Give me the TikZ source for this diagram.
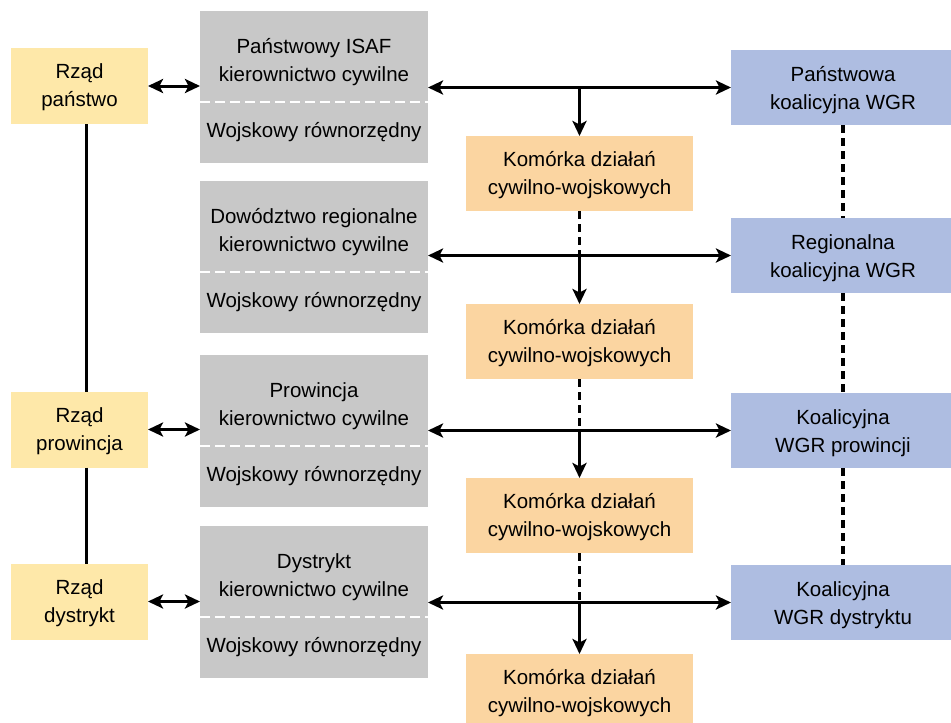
\documentclass[tikz,border=0pt]{standalone}
\usepackage{fontspec}
\setmainfont{Liberation Sans}
\usetikzlibrary{arrows.meta,calc}
\definecolor{govyellow}{RGB}{254,232,169}
\definecolor{isafgray}{RGB}{200,200,200}
\definecolor{cimicorange}{RGB}{251,213,161}
\definecolor{wgrblue}{RGB}{174,189,225}
\begin{document}
\begin{tikzpicture}[x=1pt,y=-1pt,
  textlab/.style={inner sep=0pt,outer sep=0pt,align=center,
    font=\fontsize{20.5}{28}\selectfont},
  % box text set as a centred label, lowered by the given amount
  txt/.style 2 args={label={[textlab,yshift=-#1pt]center:#2}},
  box/.style={inner sep=0pt,outer sep=0pt},
  govbox/.style={box,fill=govyellow,minimum width=137,minimum height=76},
  upperbox/.style={box,fill=isafgray,minimum width=228,minimum height=91,anchor=north},
  lowerbox/.style={box,fill=isafgray,minimum width=228,minimum height=61,anchor=north},
  cellbox/.style={box,fill=cimicorange,minimum width=227,minimum height=75},
  wgrbox/.style={box,fill=wgrblue,minimum width=224,minimum height=75},
  dbl/.style={line width=3pt,{Stealth[length=15pt,width=14pt,inset=3.5pt]}-{Stealth[length=15pt,width=14pt,inset=3.5pt]}},
  down/.style={line width=3pt,-{Stealth[length=15pt,width=14pt,inset=3.5pt]}},
  link/.style={line width=3pt},
  dlink/.style={line width=3.2pt,dash pattern=on 8pt off 5pt},
  split/.style={white,line width=2.5pt,dash pattern=on 10pt off 5pt}
]
\useasboundingbox (0,0) rectangle (951,723);
\clip (0,0) rectangle (951,723);

% government column
\node[govbox,txt={1.5}{Rząd\\państwo}] (y1) at (79.5,86) {};
\node[govbox,txt={1.5}{Rząd\\prowincja}] (y3) at (79.5,429.5) {};
\node[govbox,txt={1.5}{Rząd\\dystrykt}] (y4) at (79.5,601.5) {};
\coordinate (vx) at (86,0);

% ISAF column: civilian lead above, military counterpart below
\node[upperbox,txt={6}{Państwowy ISAF\\kierownictwo cywilne}] (gU1) at (314,11) {};
\node[lowerbox,txt={0}{Wojskowy równorzędny}] (gL1) at (gU1.south) {};
\node[upperbox,txt={6}{Dowództwo regionalne\\kierownictwo cywilne}] (gU2) at (314,181) {};
\node[lowerbox,txt={0}{Wojskowy równorzędny}] (gL2) at (gU2.south) {};
\node[upperbox,txt={6}{Prowincja\\kierownictwo cywilne}] (gU3) at (314,355) {};
\node[lowerbox,txt={0}{Wojskowy równorzędny}] (gL3) at (gU3.south) {};
\node[upperbox,txt={6}{Dystrykt\\kierownictwo cywilne}] (gU4) at (314,526) {};
\node[lowerbox,txt={0}{Wojskowy równorzędny}] (gL4) at (gU4.south) {};
\foreach \g in {gU1,gU2,gU3,gU4}
  \draw[split] (\g.south west) -- (\g.south east);

% civil-military cells
\node[cellbox,txt={2}{Komórka działań\\cywilno-wojskowych}] (o1) at (579.5,173.5) {};
\node[cellbox,txt={2}{Komórka działań\\cywilno-wojskowych}] (o2) at (579.5,341.5) {};
\node[cellbox,txt={2}{Komórka działań\\cywilno-wojskowych}] (o3) at (579.5,515.5) {};
\node[cellbox,txt={2}{Komórka działań\\cywilno-wojskowych}] (o4) at (579.5,691.5) {};

% coalition WGR column
\node[wgrbox,txt={3}{Państwowa\\koalicyjna WGR}] (b1) at (843,87.5) {};
\node[wgrbox,txt={3}{Regionalna\\koalicyjna WGR}] (b2) at (843,255.5) {};
\node[wgrbox,txt={3}{Koalicyjna\\WGR prowincji}] (b3) at (843,430.5) {};
\node[wgrbox,txt={3}{Koalicyjna\\WGR dystryktu}] (b4) at (843,602.5) {};

% government hierarchy
\draw[link] (y1.south -| vx) -- (y3.north -| vx);
\draw[link] (y3.south -| vx) -- (y4.north -| vx);

% government <-> ISAF
\draw[dbl] (y1.east) -- (y1.east -| gU1.west);
\draw[dbl] (y3.east) -- (y3.east -| gU3.west);
\draw[dbl] (y4.east) -- (y4.east -| gU4.west);

% ISAF <-> coalition WGR, with branch down to the cell
\foreach \i in {1,2,3,4}{
  \draw[dbl] (b\i.west -| gU\i.east) -- (b\i.west);
  \coordinate (j\i) at (o\i.north |- b\i.west);
  \draw[down] (j\i) -- (o\i.north);
}
\draw[dlink] (o1.south) -- (j2);
\draw[dlink] (o2.south) -- (j3);
\draw[dlink] (o3.south) -- (j4);

% coalition WGR hierarchy
\draw[dlink] (b1.south) -- (b2.north);
\draw[dlink] (b2.south) -- (b3.north);
\draw[dlink] (b3.south) -- (b4.north);
\end{tikzpicture}
\end{document}
